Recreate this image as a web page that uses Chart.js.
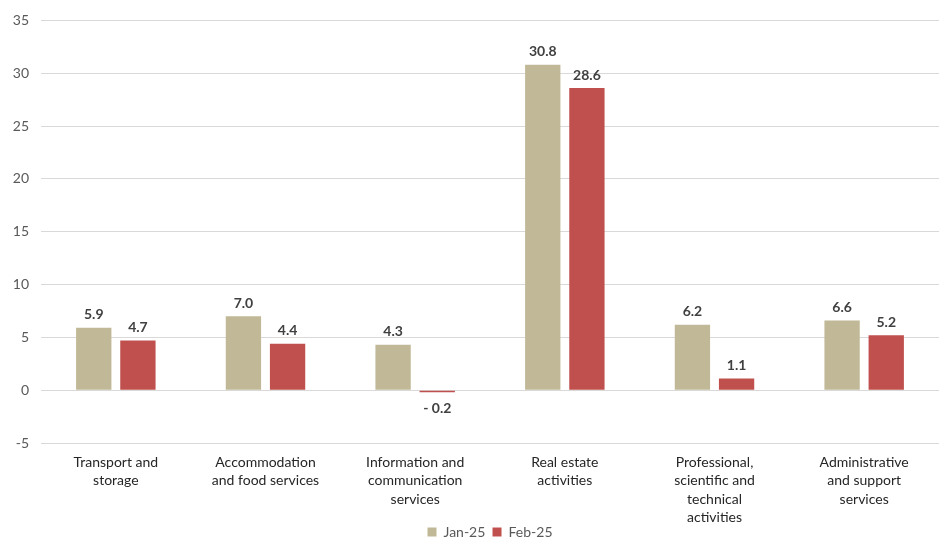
<!DOCTYPE html>
<html>
<head>
<meta charset="utf-8">
<script src="https://cdn.jsdelivr.net/npm/chart.js@4.4.1/dist/chart.umd.min.js"></script>
<style>
  html, body { margin: 0; padding: 0; background: #fff; }
  #wrap { width: 939px; height: 539px; position: relative; }
</style>
</head>
<body>
<div id="wrap"><canvas id="chart"></canvas></div>
<script>
const categories = [
  ["Transport and", "storage"],
  ["Accommodation", "and food services"],
  ["Information and", "communication", "services"],
  ["Real estate", "activities"],
  ["Professional,", "scientific and", "technical", "activities"],
  ["Administrative", "and support", "services"],
];
const jan25 = [5.9, 7.0, 4.3, 30.8, 6.2, 6.6];
const feb25 = [4.7, 4.4, -0.2, 28.6, 1.1, 5.2];
const seriesNames = ["Jan-25", "Feb-25"];

const fontFamily = "Lato, 'Open Sans', sans-serif";

// draws the value above (or below for negatives) each bar
const valueLabels = {
  id: "valueLabels",
  afterDatasetsDraw(chart) {
    const ctx = chart.ctx;
    ctx.save();
    ctx.font = "bold 14px " + fontFamily;
    ctx.fillStyle = "#404040";
    ctx.textAlign = "center";
    chart.data.datasets.forEach((ds, i) => {
      chart.getDatasetMeta(i).data.forEach((bar, j) => {
        const v = ds.data[j];
        const txt = v < 0 ? "- " + Math.abs(v).toFixed(1) : v.toFixed(1);
        if (v >= 0) {
          ctx.textBaseline = "bottom";
          ctx.fillText(txt, bar.x, bar.y - 6);
        } else {
          ctx.textBaseline = "top";
          ctx.fillText(txt, bar.x, bar.y + 9);
        }
      });
    });
    ctx.restore();
  },
};

new Chart(document.getElementById("chart"), {
  type: "bar",
  data: {
    labels: categories,
    datasets: [
      { label: seriesNames[0], data: jan25, backgroundColor: "#C0B896" },
      { label: seriesNames[1], data: feb25, backgroundColor: "#C0504D" },
    ],
  },
  options: {
    responsive: true,
    maintainAspectRatio: false,
    animation: false,
    layout: { padding: { top: 18, right: 0, left: 0, bottom: -10 } },
    categoryPercentage: 0.59,
    barPercentage: 0.8,
    scales: {
      x: {
        grid: { display: false },
        border: { display: false },
        ticks: {
          color: "#262626",
          font: { family: fontFamily, size: 14, lineHeight: 1.32 },
          maxRotation: 0,
          autoSkip: false,
          padding: 2,
        },
        afterFit(scale) { scale.height = 82; },
      },
      y: {
        min: -5,
        max: 35,
        ticks: {
          stepSize: 5,
          color: "#595959",
          font: { family: fontFamily, size: 14 },
          padding: 12,
        },
        grid: { color: "#D9D9D9", lineWidth: 1, drawTicks: false },
        border: { display: false },
        afterFit(scale) { scale.width = 41; },
      },
    },
    plugins: {
      legend: {
        position: "bottom",
        fullSize: false,
        labels: {
          boxWidth: 9,
          boxHeight: 9,
          color: "#595959",
          font: { family: fontFamily, size: 14 },
          padding: 0,
          generateLabels(chart) {
            // keep vertical padding at 0 but leave a gap between items
            const items = Chart.defaults.plugins.legend.labels.generateLabels(chart);
            items.forEach((it, i) => {
              if (i < items.length - 1) it.text = it.text + "  ";
            });
            return items;
          },
        },
      },
      tooltip: { enabled: false },
    },
  },
  plugins: [valueLabels],
});
</script>
</body>
</html>
